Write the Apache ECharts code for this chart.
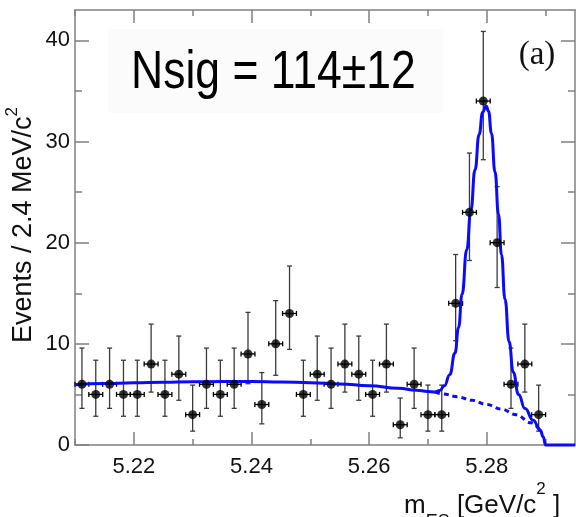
<!DOCTYPE html>
<html><head><meta charset="utf-8">
<script src="https://cdn.jsdelivr.net/npm/echarts@6/dist/echarts.min.js"></script>
<style>html,body{margin:0;padding:0;background:#fff;}#c{width:576px;height:517px;}</style>
</head><body><div id="c"></div><script>
// ---- data ----
const binCenters = [5.21118,5.21353,5.21588,5.21824,5.22059,5.22294,5.22529,5.22765,5.23000,5.23235,
  5.23471,5.23706,5.23941,5.24176,5.24412,5.24647,5.24882,5.25118,5.25353,5.25588,
  5.25824,5.26059,5.26294,5.26529,5.26765,5.27000,5.27235,5.27471,5.27706,5.27941,
  5.28176,5.28412,5.28647,5.28882];
const counts = [6,5,6,5,5,8,5,7,3,6, 5,6,9,4,10,13,5,7,6,8, 7,5,8,2,6,3,3,14,23,34, 20,6,8,3];
const barLow  = [3.62,2.84,3.62,2.84,2.84,5.23,2.84,4.42,1.37,3.62, 2.84,3.62,6.06,2.09,6.89,9.45,2.84,4.42,3.62,5.23,
  4.42,2.84,5.23,0.71,3.62,1.37,1.37,10.31,18.24,28.2, 15.57,3.62,5.23,1.37];
const barHigh = [9.58,8.38,9.58,8.38,8.38,11.95,8.38,10.77,5.92,9.58, 8.38,9.58,13.11,7.16,14.27,17.69,8.38,10.77,9.58,11.95,
  10.77,8.38,11.95,4.64,9.58,5.92,5.92,18.83,28.86,40.88, 25.54,9.58,11.95,5.92];
const binHalfWidth = 0.00118;

const fitX = [5.210,5.215,5.220,5.225,5.230,5.235,5.240,5.245,5.250,5.255,5.260,5.265,5.268,5.270,
  5.2712,5.2720,5.2728,5.2737,5.2746,5.2752,5.2758,5.2766,5.2773,5.2780,5.2787,5.2793,5.2799,5.2803,
  5.2808,5.2814,5.2820,5.2825,5.2831,5.2838,5.2845,5.2854,5.2865,5.2879,5.2891,5.2896,5.2900,5.2950];
const fitY = [5.95,6.08,6.15,6.21,6.25,6.27,6.27,6.23,6.16,6.04,5.85,5.60,5.42,5.30,
  5.24,5.38,5.85,6.95,9.1,11.6,14.9,19.3,23.2,27.2,30.7,32.9,33.5,33.0,
  30.8,27.0,22.8,18.8,14.4,10.2,7.2,5.0,3.6,2.45,1.45,0.8,0,0];

const bgX = [5.2712,5.2725,5.275,5.2775,5.280,5.2825,5.285,5.2875,5.289];
const bgY = [5.24,5.05,4.77,4.42,4.0,3.55,3.0,2.2,1.5];

const xMajorTicks = [5.22,5.24,5.26,5.28];
const xMinorTicks = [5.21,5.23,5.25,5.27,5.29];
const yMajorTicks = [0,10,20,30,40];
const yMinorTicks = [5,15,25,35];

// ---- chart ----
const FONT = '"Liberation Sans", Arial, Helvetica, sans-serif';
const AX = '#808080';
const BLUE = '#0a0aff';
const chart = echarts.init(document.getElementById('c'), null, {renderer:'canvas'});

function xAx(pos, ticks, len, line, labels) {
  return {type:'value', position:pos, min:5.21, max:5.295,
    axisLine:{show:line, onZero:false, lineStyle:{color:AX, width:1.5}},
    axisTick:{show:true, inside:true, length:len, customValues:ticks, lineStyle:{color:AX, width:1.5}},
    axisLabel:labels ? {show:true, customValues:ticks, formatter:v=>v.toFixed(2), fontSize:22, color:'#111', fontFamily:FONT, margin:11} : {show:false},
    splitLine:{show:false}};
}
function yAx(pos, ticks, len, line, labels) {
  return {type:'value', position:pos, min:0, max:43,
    axisLine:{show:line, onZero:false, lineStyle:{color:AX, width:1.5}},
    axisTick:{show:true, inside:true, length:len, customValues:ticks, lineStyle:{color:AX, width:1.5}},
    axisLabel:labels ? {show:true, customValues:ticks, formatter:v=>String(v), fontSize:22, color:'#111', fontFamily:FONT, margin:5} : {show:false},
    splitLine:{show:false}};
}

const pts = binCenters.map((x,i)=>[x, counts[i], barLow[i], barHigh[i]]);

chart.setOption({
  backgroundColor:'#ffffff',
  animation:false,
  grid:{left:75, right:1, top:10, bottom:72},
  xAxis:[xAx('bottom', xMajorTicks, 13, true, true), xAx('bottom', xMinorTicks, 6, false, false),
         xAx('top', xMajorTicks, 13, true, false), xAx('top', xMinorTicks, 6, false, false)],
  yAxis:[yAx('left', yMajorTicks, 14, true, true), yAx('left', yMinorTicks, 7, false, false),
         yAx('right', yMajorTicks, 14, true, false), yAx('right', yMinorTicks, 7, false, false)],
  series:[
    {type:'custom', xAxisIndex:0, yAxisIndex:0, z:3, data:pts,
     renderItem:function(params, api){
       const x = api.value(0), y = api.value(1), lo = api.value(2), hi = api.value(3);
       const pLo = api.coord([x, lo]), pHi = api.coord([x, hi]);
       const pL = api.coord([x - binHalfWidth, y]), pR = api.coord([x + binHalfWidth, y]);
       const vs = {stroke:'#3a3a3a', lineWidth:1.3};
       const hs = {stroke:'#000', lineWidth:1.3};
       return {type:'group', children:[
         {type:'line', shape:{x1:pLo[0], y1:pLo[1], x2:pHi[0], y2:pHi[1]}, style:vs},
         {type:'line', shape:{x1:pLo[0]-2.5, y1:pLo[1], x2:pLo[0]+2.5, y2:pLo[1]}, style:vs},
         {type:'line', shape:{x1:pHi[0]-2.5, y1:pHi[1], x2:pHi[0]+2.5, y2:pHi[1]}, style:vs},
         {type:'line', shape:{x1:pL[0], y1:pL[1], x2:pR[0], y2:pR[1]}, style:hs},
         {type:'line', shape:{x1:pL[0], y1:pL[1]-2.5, x2:pL[0], y2:pL[1]+2.5}, style:hs},
         {type:'line', shape:{x1:pR[0], y1:pR[1]-2.5, x2:pR[0], y2:pR[1]+2.5}, style:hs}
       ]};
     }},
    {type:'line', xAxisIndex:0, yAxisIndex:0, z:4, clip:false, showSymbol:false, smooth:0.4, smoothMonotone:'x',
     data:bgX.map((x,i)=>[x,bgY[i]]), lineStyle:{color:BLUE, width:3, type:[5,4]}},
    {type:'line', xAxisIndex:0, yAxisIndex:0, z:5, clip:false, showSymbol:false, smooth:0.5, smoothMonotone:'x',
     data:fitX.map((x,i)=>[x,fitY[i]]), lineStyle:{color:BLUE, width:3}},
    {type:'scatter', xAxisIndex:0, yAxisIndex:0, z:6, symbol:'circle', symbolSize:9,
     data:binCenters.map((x,i)=>[x,counts[i]]), itemStyle:{color:'#000'}}
  ],
  graphic:[
    {type:'rect', z:1, shape:{x:108, y:29, width:335, height:84}, style:{fill:'#fbfbfb'}},
    {type:'text', z:10, x:131, y:73, scaleX:0.84,
     style:{text:'Nsig = 114\u00b112', font:'53px ' + FONT, fill:'#000', align:'left', verticalAlign:'middle'}},
    {type:'text', z:10, x:537, y:55,
     style:{text:'(a)', font:'33px "Liberation Serif", "Times New Roman", serif', fill:'#111', align:'center', verticalAlign:'middle'}},
    {type:'text', z:10, x:23.5, y:225, rotation:Math.PI/2,
     style:{text:'{a|Events / 2.4 MeV/c}{p|2}', align:'center', verticalAlign:'middle',
       rich:{a:{fontSize:27, fontFamily:FONT, fill:'#111', lineHeight:40},
             p:{fontSize:17, fontFamily:FONT, fill:'#111', lineHeight:10, verticalAlign:'top'}}}},
    {type:'text', z:10, x:404, y:481,
     style:{text:'{m|m}{s|ES}{m| [GeV/c}{p|2}{m| ]}', align:'left', verticalAlign:'top',
       rich:{m:{fontSize:26, fontFamily:FONT, fill:'#111', lineHeight:50},
             s:{fontSize:18, fontFamily:FONT, fill:'#111', lineHeight:10, verticalAlign:'bottom'},
             p:{fontSize:17, fontFamily:FONT, fill:'#111', lineHeight:30, verticalAlign:'top'}}}}
  ]
});
</script></body></html>
